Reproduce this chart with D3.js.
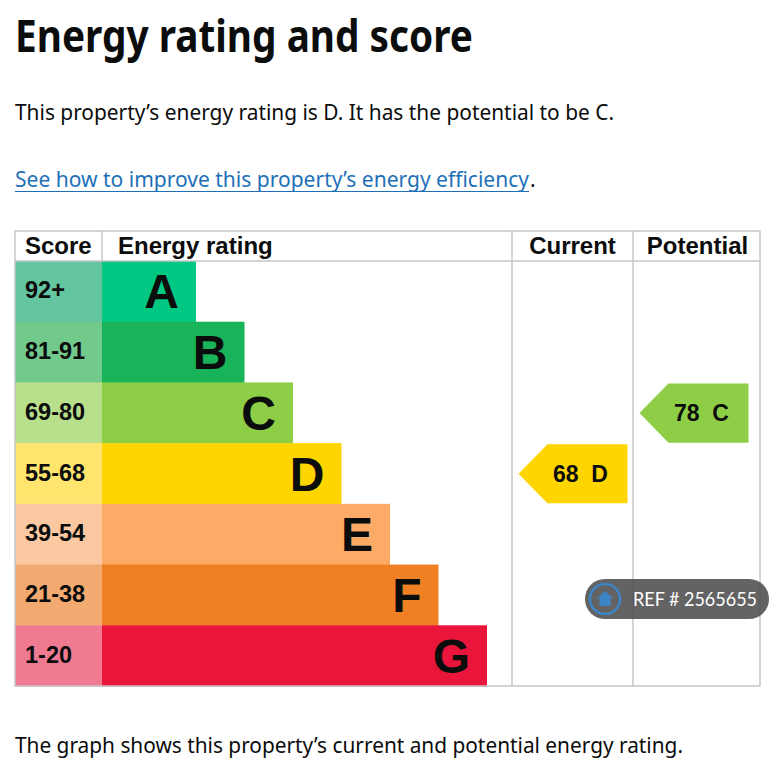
<!DOCTYPE html>
<html>
<head>
<meta charset="utf-8">
<script src="https://cdn.jsdelivr.net/npm/d3@7"></script>
<style>
  body { margin: 0; background: #fff; }
  svg { display: block; }
</style>
</head>
<body>
<svg id="epc"></svg>
<script>
// rating bands, top to bottom
const ratings = ["A", "B", "C", "D", "E", "F", "G"];
const scoreRanges = ["92+", "81-91", "69-80", "55-68", "39-54", "21-38", "1-20"];
const barColors = ["#00c781", "#19b459", "#8dce46", "#ffd500", "#fcaa65", "#ef8023", "#e9153b"];
const scoreColors = ["#63c6a1", "#72c98c", "#b8df8c", "#ffe56e", "#fcc8a2", "#f3aa70", "#f07a92"];
const columns = ["Score", "Energy rating", "Current", "Potential"];

const currentScore = 68, currentRating = "D";
const potentialScore = 78, potentialRating = "C";

const W = 781, H = 768;
const svg = d3.select("#epc").attr("width", W).attr("height", H);

const ink = "#0b0c0c";
const govFont = "'Noto Sans', Arial, sans-serif";
const tableFont = "'Liberation Sans', Arial, sans-serif";

// text above the table
svg.append("text")
  .attr("x", 15).attr("y", 52)
  .attr("font-family", govFont).attr("font-weight", 700).attr("font-size", 44)
  .attr("fill", ink)
  .attr("textLength", 458).attr("lengthAdjust", "spacingAndGlyphs")
  .text("Energy rating and score");

svg.append("text")
  .attr("x", 15).attr("y", 120)
  .attr("font-family", govFont).attr("font-size", 21)
  .attr("fill", ink)
  .attr("textLength", 599).attr("lengthAdjust", "spacingAndGlyphs")
  .text(`This property\u2019s energy rating is ${currentRating}. It has the potential to be ${potentialRating}.`);

svg.append("text")
  .attr("x", 15).attr("y", 187)
  .attr("font-family", govFont).attr("font-size", 21)
  .attr("fill", "#1d70b8")
  .attr("textLength", 514).attr("lengthAdjust", "spacingAndGlyphs")
  .text("See how to improve this property\u2019s energy efficiency");
svg.append("line")
  .attr("x1", 15).attr("x2", 529).attr("y1", 191.5).attr("y2", 191.5)
  .attr("stroke", "#1d70b8").attr("stroke-width", 1.2);
svg.append("text")
  .attr("x", 530).attr("y", 187)
  .attr("font-family", govFont).attr("font-size", 21)
  .attr("fill", ink).text(".");

// table geometry
const tLeft = 15, tRight = 760, tTop = 231, headBottom = 261, tBottom = 686;
const colEdges = [15, 102, 512, 633, 760];

const y = d3.scaleBand().domain(ratings).range([headBottom, tBottom]);
const barEnd = d3.scaleLinear().domain([0, ratings.length - 1]).range([196, 487]);

const grid = "#c4c6c7";

// header
const headX = [25, 118, (colEdges[2] + colEdges[3]) / 2, (colEdges[3] + colEdges[4]) / 2 + 1];
svg.selectAll(".head")
  .data(columns)
  .enter().append("text")
  .attr("class", "head")
  .attr("x", (d, i) => headX[i])
  .attr("y", 254)
  .attr("text-anchor", (d, i) => i < 2 ? "start" : "middle")
  .attr("font-family", tableFont).attr("font-weight", 700).attr("font-size", 24)
  .attr("fill", ink)
  .text(d => d);

// score cells
svg.selectAll(".score")
  .data(ratings)
  .enter().append("rect")
  .attr("class", "score")
  .attr("x", colEdges[0]).attr("y", d => y(d))
  .attr("width", colEdges[1] - colEdges[0]).attr("height", y.bandwidth() + 0.5)
  .attr("fill", (d, i) => scoreColors[i]);

svg.selectAll(".score-label")
  .data(scoreRanges)
  .enter().append("text")
  .attr("class", "score-label")
  .attr("x", 25)
  .attr("y", (d, i) => y(ratings[i]) + y.bandwidth() / 2 + 7)
  .attr("font-family", tableFont).attr("font-weight", 700).attr("font-size", 23.5)
  .attr("fill", ink)
  .text(d => d);

// rating bars
svg.selectAll(".bar")
  .data(ratings)
  .enter().append("rect")
  .attr("class", "bar")
  .attr("x", colEdges[1]).attr("y", d => y(d))
  .attr("width", (d, i) => barEnd(i) - colEdges[1]).attr("height", y.bandwidth() + 0.5)
  .attr("fill", (d, i) => barColors[i]);

svg.selectAll(".bar-label")
  .data(ratings)
  .enter().append("text")
  .attr("class", "bar-label")
  .attr("x", (d, i) => barEnd(i) - 17)
  .attr("y", d => y(d) + y.bandwidth() / 2 + 17)
  .attr("text-anchor", "end")
  .attr("font-family", tableFont).attr("font-weight", 700).attr("font-size", 48)
  .attr("fill", ink)
  .text(d => d);

// grid lines
svg.append("rect")
  .attr("x", tLeft).attr("y", tTop).attr("width", tRight - tLeft).attr("height", tBottom - tTop)
  .attr("fill", "none").attr("stroke", grid).attr("stroke-width", 1.5);
svg.append("line")
  .attr("x1", tLeft).attr("x2", tRight).attr("y1", headBottom).attr("y2", headBottom)
  .attr("stroke", grid).attr("stroke-width", 1.5);
svg.append("line")
  .attr("x1", colEdges[1]).attr("x2", colEdges[1]).attr("y1", tTop).attr("y2", headBottom)
  .attr("stroke", grid).attr("stroke-width", 1.5);
svg.selectAll(".vline")
  .data([colEdges[2], colEdges[3]])
  .enter().append("line")
  .attr("class", "vline")
  .attr("x1", d => d).attr("x2", d => d).attr("y1", tTop).attr("y2", tBottom)
  .attr("stroke", grid).attr("stroke-width", 1.5);

// current / potential arrows
const arrows = [
  { score: currentScore, rating: currentRating, col: 2 },
  { score: potentialScore, rating: potentialRating, col: 3 }
];
const arrowW = 109, arrowTip = 29;

const arrowG = svg.selectAll(".arrow")
  .data(arrows)
  .enter().append("g")
  .attr("class", "arrow")
  .attr("transform", d => `translate(${colEdges[d.col] + 6.5},${y(d.rating) + 1})`);

arrowG.append("path")
  .attr("d", () => {
    const h = y.bandwidth() - 1.5;
    return `M0,${h / 2} L${arrowTip},0 L${arrowW},0 L${arrowW},${h} L${arrowTip},${h} Z`;
  })
  .attr("fill", d => barColors[ratings.indexOf(d.rating)]);

arrowG.append("text")
  .attr("x", 62)
  .attr("y", y.bandwidth() / 2 + 7.5)
  .attr("text-anchor", "middle")
  .attr("font-family", tableFont).attr("font-weight", 700).attr("font-size", 23)
  .attr("fill", ink)
  .attr("xml:space", "preserve")
  .text(d => `${d.score}  ${d.rating}`);

// caption under the table
svg.append("text")
  .attr("x", 15).attr("y", 753)
  .attr("font-family", govFont).attr("font-size", 21)
  .attr("fill", ink)
  .attr("textLength", 668).attr("lengthAdjust", "spacingAndGlyphs")
  .text("The graph shows this property\u2019s current and potential energy rating.");

// listing watermark
const badge = svg.append("g").attr("transform", "translate(585,579)");
badge.append("rect")
  .attr("width", 184).attr("height", 40).attr("rx", 20)
  .attr("fill", "#4d4d4d").attr("fill-opacity", 0.88);
badge.append("circle")
  .attr("cx", 20).attr("cy", 20).attr("r", 15)
  .attr("fill", "none").attr("stroke", "#3d85c6").attr("stroke-width", 2.5);
badge.append("path")
  .attr("d", "M20,12 L28,19.5 L25.5,19.5 L25.5,27 L14.5,27 L14.5,19.5 L12,19.5 Z")
  .attr("fill", "#3d85c6");
badge.append("text")
  .attr("x", 48).attr("y", 27)
  .attr("font-family", "Lato, 'Open Sans', sans-serif").attr("font-size", 19)
  .attr("fill", "#fff")
  .attr("textLength", 124).attr("lengthAdjust", "spacingAndGlyphs")
  .text("REF # 2565655");
</script>
</body>
</html>
